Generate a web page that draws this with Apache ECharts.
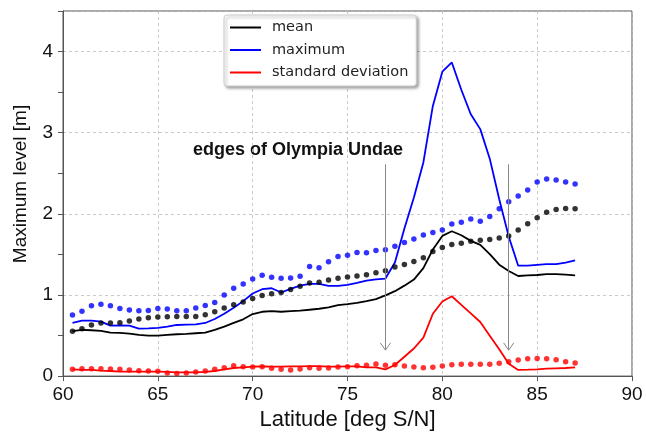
<!DOCTYPE html>
<html>
<head>
<meta charset="utf-8">
<script src="https://cdn.jsdelivr.net/npm/echarts@6/dist/echarts.min.js"></script>
<style>html,body{margin:0;padding:0;background:#fff}#c{width:646px;height:436px}</style>
</head>
<body>
<div id="c"></div>
<script>
const lat = [60.5,61,61.5,62,62.5,63,63.5,64,64.5,65,65.5,66,66.5,67,67.5,68,68.5,69,69.5,70,70.5,71,71.5,72,72.5,73,73.5,74,74.5,75,75.5,76,76.5,77,77.5,78,78.5,79,79.5,80,80.5,81,81.5,82,82.5,83,83.5,84,84.5,85,85.5,86,86.5,87];

const meanLine = [0.553,0.569,0.565,0.557,0.536,0.532,0.524,0.508,0.50,0.50,0.508,0.516,0.52,0.528,0.536,0.569,0.61,0.655,0.70,0.765,0.793,0.80,0.793,0.80,0.806,0.818,0.83,0.847,0.875,0.887,0.903,0.924,0.949,0.995,1.047,1.115,1.19,1.33,1.56,1.728,1.785,1.736,1.667,1.618,1.503,1.373,1.295,1.234,1.242,1.246,1.258,1.258,1.25,1.242];
const maxLine = [0.655,0.683,0.683,0.671,0.622,0.626,0.622,0.585,0.589,0.594,0.61,0.63,0.634,0.638,0.655,0.704,0.769,0.842,0.924,1.018,1.071,1.083,1.03,1.075,1.116,1.136,1.136,1.111,1.111,1.124,1.149,1.177,1.193,1.202,1.40,1.82,2.2,2.634,3.33,3.752,3.866,3.53,3.227,3.044,2.68,2.18,1.72,1.361,1.361,1.37,1.379,1.379,1.40,1.426];
const stdLine = [0.083,0.076,0.076,0.067,0.063,0.055,0.055,0.055,0.055,0.055,0.051,0.047,0.047,0.047,0.051,0.063,0.083,0.10,0.108,0.116,0.12,0.116,0.116,0.12,0.12,0.124,0.124,0.116,0.116,0.12,0.12,0.108,0.108,0.083,0.137,0.239,0.34,0.475,0.769,0.92,0.984,0.877,0.773,0.667,0.498,0.33,0.153,0.076,0.079,0.083,0.092,0.096,0.10,0.108];

const meanDots = [0.553,0.585,0.63,0.655,0.655,0.659,0.679,0.704,0.72,0.728,0.732,0.736,0.736,0.736,0.757,0.793,0.838,0.879,0.912,0.957,0.993,1.014,1.03,1.067,1.108,1.149,1.157,1.185,1.206,1.222,1.234,1.25,1.275,1.30,1.344,1.377,1.414,1.459,1.536,1.585,1.622,1.638,1.663,1.675,1.683,1.703,1.728,1.80,1.879,1.952,2.018,2.054,2.066,2.062];
const maxDots = [0.753,0.80,0.867,0.887,0.867,0.834,0.814,0.806,0.81,0.834,0.826,0.806,0.806,0.838,0.871,0.908,1.00,1.083,1.136,1.197,1.242,1.218,1.206,1.21,1.23,1.352,1.336,1.41,1.475,1.49,1.524,1.52,1.548,1.556,1.60,1.646,1.691,1.74,1.769,1.80,1.875,1.895,1.936,1.91,1.968,2.062,2.148,2.22,2.295,2.393,2.43,2.417,2.393,2.368];
const stdDots = [0.083,0.092,0.092,0.092,0.088,0.083,0.076,0.067,0.063,0.059,0.039,0.031,0.039,0.051,0.063,0.083,0.104,0.129,0.116,0.112,0.116,0.096,0.083,0.076,0.088,0.104,0.096,0.10,0.112,0.116,0.129,0.133,0.149,0.133,0.141,0.124,0.112,0.104,0.108,0.124,0.141,0.145,0.145,0.145,0.145,0.157,0.177,0.198,0.214,0.218,0.214,0.202,0.177,0.162];

const legendNames = ['mean','maximum','standard deviation'];
const xTicks = [60,65,70,75,80,85,90];
const yTicks = [0,1,2,3,4];
const edgeLatitudes = [77, 83.5];
const arrowTop = 2.61, arrowTip = 0.32;
const annotation = 'edges of Olympia Undae';
const yTitle = 'Maximum level [m]';
const xTitle = 'Latitude [deg S/N]';

const pair = (ys) => lat.map((x, i) => [x, ys[i]]);

// arrows: shaft + two short arms forming an open head
const arrowLines = [];
edgeLatitudes.forEach(x => {
  arrowLines.push([{coord: [x, arrowTop]}, {coord: [x, arrowTip]}]);
  arrowLines.push([{coord: [x - 0.27, arrowTip + 0.09]}, {coord: [x, arrowTip]}]);
  arrowLines.push([{coord: [x + 0.27, arrowTip + 0.09]}, {coord: [x, arrowTip]}]);
});

const FONT = '"Liberation Sans", Arial, sans-serif';
const chart = echarts.init(document.getElementById('c'), null, {renderer: 'canvas'});

function lineSeries(name, ys, color, extra) {
  return Object.assign({
    name, type: 'line', data: pair(ys), symbol: 'none', showSymbol: false,
    lineStyle: {color, width: 1.8}, itemStyle: {color}, z: 3, animation: false
  }, extra || {});
}
function dotSeries(name, ys, color) {
  return {
    name, type: 'scatter', data: pair(ys), symbol: 'circle', symbolSize: 5.5,
    itemStyle: {color}, z: 4, animation: false
  };
}

chart.setOption({
  animation: false,
  backgroundColor: '#fff',
  grid: {left: 63, right: 14, top: 11, bottom: 56.5, show: true, borderColor: '#555', borderWidth: 1, backgroundColor: 'transparent'},
  legend: {
    data: legendNames, orient: 'vertical', left: 224, top: 15,
    itemWidth: 31, itemHeight: 14, itemGap: 7.5,
    padding: [5, 8, 6, 5],
    itemStyle: {opacity: 0},
    backgroundColor: '#fff', borderColor: '#ccc', borderWidth: 1, borderRadius: 3,
    shadowColor: 'rgba(0,0,0,0.35)', shadowBlur: 3, shadowOffsetX: 2, shadowOffsetY: 2,
    textStyle: {fontFamily: '"DejaVu Sans", sans-serif', fontSize: 14.5, color: '#222', padding: [0, 0, 0, 6]}
  },
  xAxis: {
    type: 'value', min: xTicks[0], max: xTicks[xTicks.length - 1], interval: 5,
    name: xTitle, nameLocation: 'middle', nameGap: 28,
    nameTextStyle: {fontFamily: FONT, fontSize: 22, color: '#111'},
    axisLine: {show: true, lineStyle: {color: '#555', width: 1}},
    axisTick: {show: true, length: 5, inside: false, lineStyle: {color: '#555'}},
    axisLabel: {fontFamily: FONT, fontSize: 19, color: '#111', margin: 9},
    splitLine: {show: true, lineStyle: {color: '#bbb', type: [3, 3], width: 0.8}}
  },
  yAxis: [{
    type: 'value', min: 0, max: 4.5, interval: 1,
    axisLine: {show: true, lineStyle: {color: '#555', width: 1}},
    axisTick: {show: false},
    axisLabel: {fontFamily: FONT, fontSize: 19, color: '#111', margin: 10,
      formatter: v => (yTicks.indexOf(v) >= 0 ? String(v) : '')},
    splitLine: {show: true, lineStyle: {color: '#bbb', type: [3, 3], width: 0.8}}
  }, {
    type: 'value', min: 0, max: 4.5, interval: 0.5, position: 'left',
    axisLine: {show: true, lineStyle: {color: '#555', width: 1}},
    axisTick: {show: true, length: 5, lineStyle: {color: '#555'}},
    axisLabel: {show: false}, splitLine: {show: false}
  }],
  graphic: [{
    type: 'text', left: 193, top: 141,
    style: {text: annotation, fontFamily: FONT, fontWeight: 'bold', fontSize: 18, fill: '#111'}
  }, {
    type: 'text', x: 21, y: 184, rotation: Math.PI / 2,
    style: {text: yTitle, fontFamily: FONT, fontSize: 19, fill: '#111', align: 'center', verticalAlign: 'middle'}
  }],
  series: [
    lineSeries(legendNames[0], meanLine, '#000000', {
      markLine: {
        silent: true, symbol: ['none', 'none'], label: {show: false},
        lineStyle: {color: '#888', width: 1, type: 'solid'},
        data: arrowLines, animation: false
      }
    }),
    lineSeries(legendNames[1], maxLine, '#0000ff'),
    lineSeries(legendNames[2], stdLine, '#ff0000'),
    dotSeries('mean dots', meanDots, '#000000'),
    dotSeries('maximum dots', maxDots, '#0000ff'),
    dotSeries('std dots', stdDots, '#ff0000')
  ]
});
</script>
</body>
</html>
